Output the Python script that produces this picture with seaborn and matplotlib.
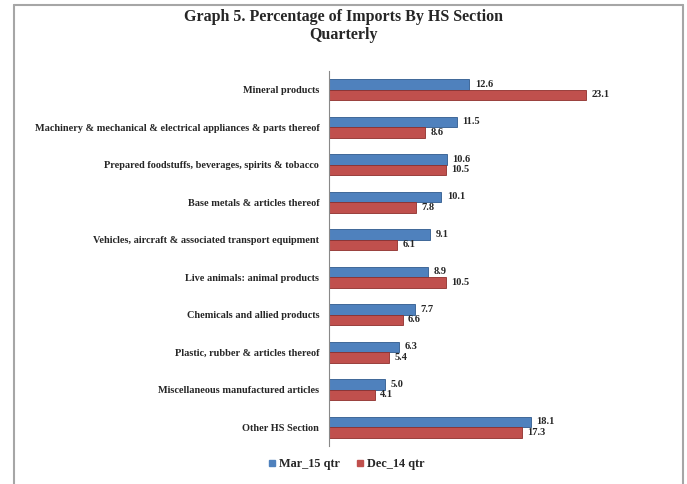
import pandas as pd
import matplotlib
matplotlib.use("Agg")
import matplotlib.pyplot as plt
import seaborn as sns
from matplotlib.lines import Line2D

# --- Data ---
sections = [
    "Mineral products",
    "Machinery & mechanical & electrical appliances & parts thereof",
    "Prepared foodstuffs, beverages, spirits & tobacco",
    "Base metals & articles thereof",
    "Vehicles, aircraft & associated transport equipment",
    "Live animals: animal products",
    "Chemicals and allied products",
    "Plastic, rubber & articles thereof",
    "Miscellaneous manufactured articles",
    "Other HS Section",
]
mar_15 = [12.6, 11.5, 10.6, 10.1, 9.1, 8.9, 7.7, 6.3, 5.0, 18.1]
dec_14 = [23.1, 8.6, 10.5, 7.8, 6.1, 10.5, 6.6, 5.4, 4.1, 17.3]
series = ["Mar_15 qtr", "Dec_14 qtr"]

df = pd.DataFrame({
    "section": sections * 2,
    "pct": mar_15 + dec_14,
    "quarter": [series[0]] * len(sections) + [series[1]] * len(sections),
})

# --- Chart ---
sns.set_theme(style="white")
plt.rcParams["font.family"] = ["Liberation Serif", "DejaVu Serif"]

fig = plt.figure(figsize=(6.87, 4.84), dpi=100)
ax = fig.add_axes([0.479, 0.0785, 0.405, 0.775])

palette = {"Mar_15 qtr": "#4F81BD", "Dec_14 qtr": "#C0504D"}
sns.barplot(data=df, x="pct", y="section", hue="quarter", palette=palette,
            width=0.56, saturation=1, ax=ax, legend=False)

edge = {"Mar_15 qtr": "#2F5A8E", "Dec_14 qtr": "#8E2F2C"}
for cont, name in zip(ax.containers, series):
    for p in cont:
        p.set_edgecolor(edge[name])
        p.set_linewidth(0.6)
    ax.bar_label(cont, fmt="%.1f", padding=4, fontsize=7.5, fontweight="bold")

ax.set_xlim(0, 25)
ax.set_ylim(len(sections) - 0.5, -0.5)
ax.set_xlabel("")
ax.set_ylabel("")
ax.set_xticks([])
ax.tick_params(axis="y", which="major", length=0, pad=7, labelsize=7.4)
for lab in ax.get_yticklabels():
    lab.set_fontweight("bold")
ax.set_yticks([i - 0.5 for i in range(len(sections) + 1)], minor=True)
ax.tick_params(axis="y", which="minor", length=4, color="#888888", width=0.8, direction="out")
for s in ["top", "right", "bottom"]:
    ax.spines[s].set_visible(False)
ax.spines["left"].set_color("#888888")
ax.spines["left"].set_linewidth(0.8)

fig.text(0.5, 0.982, "Graph 5. Percentage of Imports By HS Section\nQuarterly",
         ha="center", va="top", fontsize=11.5, fontweight="bold", linespacing=1.15)

handles = [Line2D([], [], marker="s", linestyle="", markersize=4,
                  markerfacecolor=palette[n], markeredgecolor=palette[n]) for n in series]
leg = fig.legend(handles, series, loc="center", bbox_to_anchor=(0.5, 0.041), ncol=2,
                 frameon=False, handletextpad=-0.2, columnspacing=0.9, handlelength=1.5,
                 prop={"weight": "bold", "size": 8.8})

# chart frame (left, top, right edges)
fx0, fx1, fy1 = 14 / 687, 683 / 687, 1 - 5 / 484
for xs, ys in [([fx0, fx0], [0, fy1]), ([fx0, fx1], [fy1, fy1]), ([fx1, fx1], [fy1, 0])]:
    fig.add_artist(Line2D(xs, ys, color="#A6A6A6", linewidth=1.5, transform=fig.transFigure))

fig.savefig("out.png", dpi=100)
